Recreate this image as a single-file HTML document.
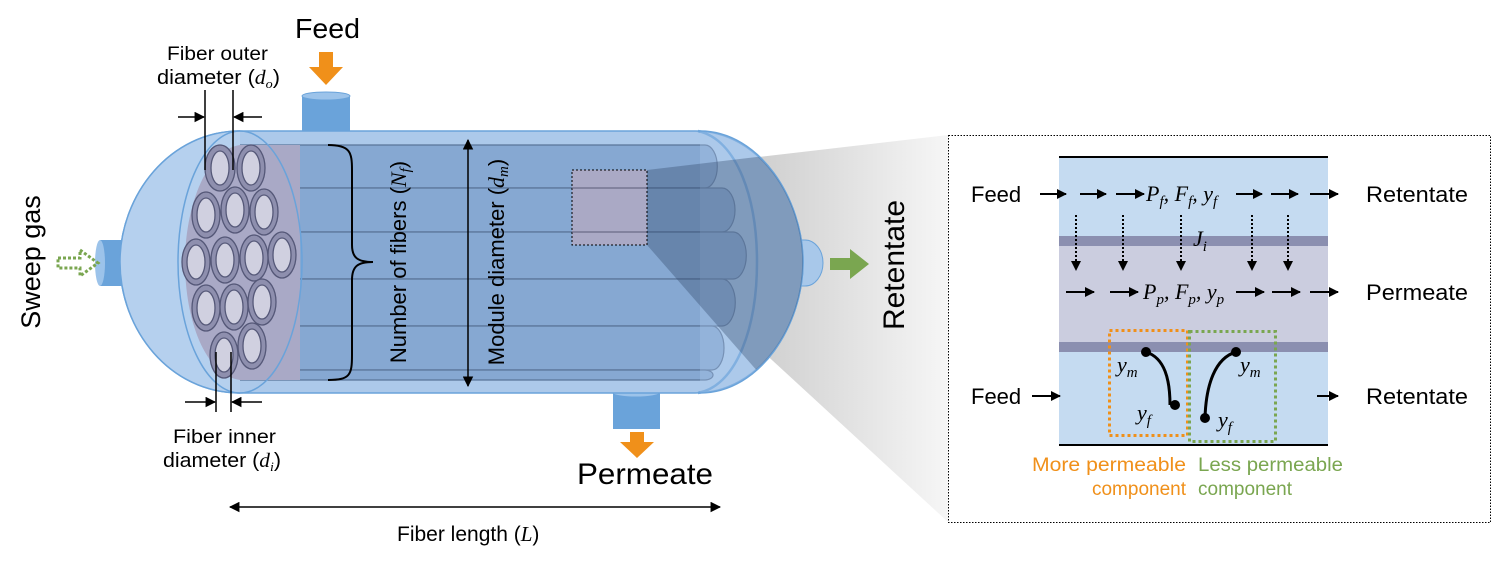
<!DOCTYPE html>
<html><head><meta charset="utf-8"><style>
html,body{margin:0;padding:0;background:#fff}
svg{display:block}
text{font-family:"Liberation Sans","DejaVu Sans",sans-serif;fill:#000}
.m{font-family:"Liberation Serif","DejaVu Serif",serif;font-style:italic}
</style></head><body>
<svg width="1506" height="561" viewBox="0 0 1506 561" xmlns="http://www.w3.org/2000/svg">
<defs>
<linearGradient id="sh" x1="0" x2="1" y1="0" y2="0">
<stop offset="0" stop-color="#b8b8b8"/><stop offset="1" stop-color="#f6f6f6"/></linearGradient>
<marker id="ah" viewBox="0 0 10 10" refX="9" refY="5" markerWidth="7" markerHeight="7" orient="auto-start-reverse"><path d="M0,0L10,5L0,10z" fill="#000"/></marker>
<marker id="as" viewBox="0 0 10 10" refX="9" refY="5" markerWidth="5" markerHeight="5" orient="auto-start-reverse"><path d="M0,0L10,5L0,10z" fill="#000"/></marker>
<clipPath id="vc"><path d="M240,131 L695,131 C760,131 803,200 803,262 C803,325 760,393 695,393 L240,393 C170,393 120,330 120,262 C120,195 170,131 240,131Z"/></clipPath>
</defs>

<polygon points="647,170 948,135 948,522 647,245" fill="url(#sh)"/>

<rect x="302" y="96" width="48" height="36" fill="#6aa3da"/>
<ellipse cx="326" cy="96" rx="24" ry="4" fill="#9cc3ea" stroke="#6aa3da"/>
<rect x="613" y="391" width="47" height="38" fill="#6aa3da"/>
<ellipse cx="636" cy="393" rx="23" ry="4" fill="#9cc3ea" stroke="#6aa3da"/>
<rect x="100" y="240" width="40" height="46" fill="#6aa3da"/>
<ellipse cx="100" cy="263" rx="5" ry="23" fill="#9cc3ea"/>
<path d="M800,240 h5 a18,23 0 0 1 0,46 h-5z" fill="#a8c8ea" stroke="#6aa3da"/>

<path d="M240,131 L695,131 C760,131 803,200 803,262 C803,325 760,393 695,393 L240,393 C170,393 120,330 120,262 C120,195 170,131 240,131Z" fill="#acc9ea" stroke="#6aa3da" stroke-width="1.5"/>
<g fill="#86a8d2" stroke="#5a7499" stroke-width="1.2">
<path d="M240,145 H705 a12,21 0 0 1 0,43 H240z"/>
<path d="M240,188 H722 a13,22 0 0 1 0,44 H240z"/>
<path d="M240,232 H733 a13,23 0 0 1 0,47 H240z"/>
<path d="M240,279 H722 a13,23 0 0 1 0,47 H240z"/>
<path d="M240,326 H712 a12,22 0 0 1 0,44 H240z"/>
<path d="M240,370 H705 a8,5 0 0 1 0,10 H240z"/>
</g>
<path d="M698,131 C738,140 757,200 757,262 C757,325 738,385 698,393" fill="none" stroke="#6aa3da" stroke-width="2.5"/>
<path d="M700,131 C760,131 803,200 803,262 C803,325 760,393 700,393" fill="#acc9ea" fill-opacity="0.35" stroke="#6aa3da" stroke-width="1.5"/>
<path d="M240,131 C170,131 120,195 120,262 C120,330 170,393 240,393" fill="#b5d0ee" stroke="#6aa3da" stroke-width="1.5"/>
<path d="M240,145 C205,150 185,210 185,262 C185,320 205,375 240,380 L300,380 L300,145Z" fill="#a9a9c6"/>
<ellipse cx="240" cy="262" rx="62" ry="131" fill="none" stroke="#6aa3da" stroke-width="1.5"/>

<g stroke="#555878" stroke-width="1.3">
<g fill="#8e8fae">
<ellipse cx="220" cy="168" rx="15" ry="23"/><ellipse cx="251" cy="168" rx="14" ry="23"/>
<ellipse cx="206" cy="215" rx="14" ry="23"/><ellipse cx="235" cy="210" rx="14" ry="23"/><ellipse cx="264" cy="212" rx="14" ry="23"/>
<ellipse cx="196" cy="262" rx="14" ry="23"/><ellipse cx="225" cy="260" rx="14" ry="23"/><ellipse cx="254" cy="258" rx="14" ry="23"/><ellipse cx="282" cy="255" rx="14" ry="23"/>
<ellipse cx="206" cy="308" rx="14" ry="23"/><ellipse cx="234" cy="307" rx="14" ry="23"/><ellipse cx="262" cy="302" rx="14" ry="23"/>
<ellipse cx="224" cy="355" rx="14" ry="23"/><ellipse cx="252" cy="346" rx="14" ry="23"/>
</g>
<g fill="#d0d0e0">
<ellipse cx="220" cy="168" rx="9" ry="17"/><ellipse cx="251" cy="168" rx="9" ry="17"/>
<ellipse cx="206" cy="215" rx="9" ry="17"/><ellipse cx="235" cy="210" rx="9" ry="17"/><ellipse cx="264" cy="212" rx="9" ry="17"/>
<ellipse cx="196" cy="262" rx="9" ry="17"/><ellipse cx="225" cy="260" rx="9" ry="17"/><ellipse cx="254" cy="258" rx="9" ry="17"/><ellipse cx="282" cy="255" rx="9" ry="17"/>
<ellipse cx="206" cy="308" rx="9" ry="17"/><ellipse cx="234" cy="307" rx="9" ry="17"/><ellipse cx="262" cy="302" rx="9" ry="17"/>
<ellipse cx="224" cy="355" rx="9" ry="17"/><ellipse cx="252" cy="346" rx="9" ry="17"/>
</g></g>

<polygon points="647,170 900,140 900,420 800,420 647,245" fill="#2f4566" opacity="0.35" clip-path="url(#vc)"/>
<rect x="572" y="170" width="75" height="75" fill="#aaa9c5" stroke="#000" stroke-dasharray="2,2"/>
<line x1="572" y1="188" x2="647" y2="188" stroke="#5a5a78"/>
<line x1="572" y1="232" x2="647" y2="232" stroke="#5a5a78"/>

<g stroke="#000" stroke-width="1.5">
<line x1="205" y1="90" x2="205" y2="170"/><line x1="233" y1="90" x2="233" y2="170"/>
<line x1="178" y1="117" x2="204" y2="117" marker-end="url(#ah)"/>
<line x1="262" y1="117" x2="234" y2="117" marker-end="url(#ah)"/>
<line x1="216" y1="352" x2="216" y2="412"/><line x1="231" y1="352" x2="231" y2="412"/>
<line x1="185" y1="402" x2="215" y2="402" marker-end="url(#ah)"/>
<line x1="262" y1="402" x2="232" y2="402" marker-end="url(#ah)"/>
<line x1="468" y1="140" x2="468" y2="386" marker-start="url(#ah)" marker-end="url(#ah)"/>
<line x1="230" y1="507" x2="720" y2="507" marker-start="url(#ah)" marker-end="url(#ah)"/>
</g>
<path d="M328,145 C350,145 352,152 352,170 V245 C352,258 358,262 373,262 C358,262 352,266 352,280 V355 C352,375 350,380 328,380" fill="none" stroke="#000" stroke-width="2"/>

<path d="M319,52 h14 v15 h10 l-17,18 l-17,-18 h10z" fill="#f0901a"/>
<path d="M630,432 h14 v10 h10 l-17,16 l-17,-16 h10z" fill="#f0901a"/>
<path d="M830,258 h20 v-9 l19,15 l-19,15 v-9 h-20z" fill="#7aa650"/>
<path d="M58,258 h22 v-8 l18,13 l-18,13 v-8 h-22z" fill="none" stroke="#7aa650" stroke-width="3" stroke-dasharray="3,2"/>

<text x="295" y="38" font-size="28" textLength="65" lengthAdjust="spacingAndGlyphs">Feed</text>
<text x="167" y="60" font-size="19" textLength="101" lengthAdjust="spacingAndGlyphs">Fiber outer</text>
<text x="157" y="84" font-size="20" textLength="123" lengthAdjust="spacingAndGlyphs">diameter (<tspan class="m">d<tspan font-size="13" dy="4">o</tspan></tspan><tspan dy="-4">)</tspan></text>
<text x="173" y="443" font-size="19" textLength="103" lengthAdjust="spacingAndGlyphs">Fiber inner</text>
<text x="163" y="467" font-size="20" textLength="118" lengthAdjust="spacingAndGlyphs">diameter (<tspan class="m">d<tspan font-size="13" dy="4">i</tspan></tspan><tspan dy="-4">)</tspan></text>
<text x="577" y="484" font-size="30" textLength="136" lengthAdjust="spacingAndGlyphs">Permeate</text>
<text x="397" y="541" font-size="21">Fiber length (<tspan class="m">L</tspan>)</text>
<text transform="translate(40,262) rotate(-90)" font-size="27" text-anchor="middle">Sweep gas</text>
<text transform="translate(904,265) rotate(-90)" font-size="30" text-anchor="middle">Retentate</text>
<text transform="translate(406,262) rotate(-90)" font-size="22" text-anchor="middle">Number of fibers (<tspan class="m">N<tspan font-size="15" dy="4">f</tspan></tspan><tspan dy="-4">)</tspan></text>
<text transform="translate(504,262) rotate(-90)" font-size="22" text-anchor="middle">Module diameter (<tspan class="m">d<tspan font-size="15" dy="4">m</tspan></tspan><tspan dy="-4">)</tspan></text>

<rect x="948.5" y="135.5" width="542" height="387" fill="#fff" stroke="#000" stroke-dasharray="1.5,1.5"/>
<rect x="1059" y="157" width="269" height="288" fill="#c5dbf1"/>
<rect x="1059" y="246" width="269" height="96" fill="#cbcddf"/>
<rect x="1059" y="236" width="269" height="10" fill="#8b8fb0"/>
<rect x="1059" y="342" width="269" height="10" fill="#8b8fb0"/>
<line x1="1059" y1="157" x2="1328" y2="157" stroke="#000" stroke-width="2"/>
<line x1="1059" y1="445" x2="1328" y2="445" stroke="#000" stroke-width="2"/>

<g stroke="#000" stroke-width="2">
<line x1="1040" y1="194" x2="1066" y2="194" marker-end="url(#as)"/>
<line x1="1080" y1="194" x2="1106" y2="194" marker-end="url(#as)"/>
<line x1="1116" y1="194" x2="1144" y2="194" marker-end="url(#as)"/>
<line x1="1236" y1="194" x2="1262" y2="194" marker-end="url(#as)"/>
<line x1="1271" y1="194" x2="1298" y2="194" marker-end="url(#as)"/>
<line x1="1310" y1="194" x2="1338" y2="194" marker-end="url(#as)"/>
<line x1="1066" y1="292" x2="1094" y2="292" marker-end="url(#as)"/>
<line x1="1110" y1="292" x2="1138" y2="292" marker-end="url(#as)"/>
<line x1="1236" y1="292" x2="1264" y2="292" marker-end="url(#as)"/>
<line x1="1272" y1="292" x2="1300" y2="292" marker-end="url(#as)"/>
<line x1="1310" y1="292" x2="1338" y2="292" marker-end="url(#as)"/>
<line x1="1032" y1="396" x2="1060" y2="396" marker-end="url(#as)"/>
<line x1="1317" y1="396" x2="1338" y2="396" marker-end="url(#as)"/>
<g stroke-dasharray="2,2">
<line x1="1076" y1="215" x2="1076" y2="270" marker-end="url(#as)"/>
<line x1="1123" y1="215" x2="1123" y2="270" marker-end="url(#as)"/>
<line x1="1181" y1="215" x2="1181" y2="270" marker-end="url(#as)"/>
<line x1="1252" y1="215" x2="1252" y2="270" marker-end="url(#as)"/>
<line x1="1288" y1="215" x2="1288" y2="270" marker-end="url(#as)"/>
</g>
</g>
<rect x="1109.5" y="330.5" width="78" height="105" fill="none" stroke="#f0901a" stroke-width="3" stroke-dasharray="3,3"/>
<rect x="1189.5" y="331.5" width="86" height="110" fill="none" stroke="#7aa650" stroke-width="3" stroke-dasharray="3,3"/>
<path d="M1146,352 C1165,358 1170,380 1170,405" fill="none" stroke="#000" stroke-width="3"/>
<path d="M1236,352 C1215,358 1206,385 1205,418" fill="none" stroke="#000" stroke-width="3"/>
<circle cx="1146" cy="352" r="5"/><circle cx="1175" cy="405" r="5"/>
<circle cx="1236" cy="352" r="5"/><circle cx="1205" cy="418" r="5"/>

<g font-size="22">
<text x="971" y="202">Feed</text>
<text x="1366" y="202" textLength="102" lengthAdjust="spacingAndGlyphs">Retentate</text>
<text x="1366" y="300" textLength="102" lengthAdjust="spacingAndGlyphs">Permeate</text>
<text x="971" y="404">Feed</text>
<text x="1366" y="404" textLength="102" lengthAdjust="spacingAndGlyphs">Retentate</text>
</g>
<g font-size="22">
<text x="1146" y="201" class="m">P<tspan font-size="15" dy="5">f</tspan><tspan dy="-5">, F</tspan><tspan font-size="15" dy="5">f</tspan><tspan dy="-5">, y</tspan><tspan font-size="15" dy="5">f</tspan></text>
<text x="1143" y="299" class="m">P<tspan font-size="15" dy="5">p</tspan><tspan dy="-5">, F</tspan><tspan font-size="15" dy="5">p</tspan><tspan dy="-5">, y</tspan><tspan font-size="15" dy="5">p</tspan></text>
<text x="1193" y="246" class="m">J<tspan font-size="15" dy="5">i</tspan></text>
<text x="1117" y="372" class="m">y<tspan font-size="15" dy="5">m</tspan></text>
<text x="1240" y="372" class="m">y<tspan font-size="15" dy="5">m</tspan></text>
<text x="1137" y="420" class="m">y<tspan font-size="15" dy="5">f</tspan></text>
<text x="1218" y="427" class="m">y<tspan font-size="15" dy="5">f</tspan></text>
</g>
<g font-size="19">
<text x="1032" y="471" textLength="154" lengthAdjust="spacingAndGlyphs" style="fill:#f0901a">More permeable</text>
<text x="1186" y="495" text-anchor="end" style="fill:#f0901a">component</text>
<text x="1198" y="471" textLength="145" lengthAdjust="spacingAndGlyphs" style="fill:#7aa650">Less permeable</text>
<text x="1198" y="495" style="fill:#7aa650">component</text>
</g>
</svg>
</body></html>
